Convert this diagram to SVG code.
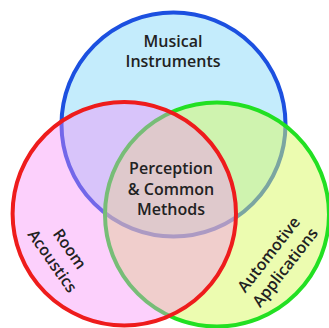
<svg xmlns="http://www.w3.org/2000/svg" width="329" height="328" viewBox="0 0 329 328">
<style>
.c{stroke-width:4}
.t{font-family:"Open Sans","Liberation Sans",sans-serif;font-size:16px;fill:#222222;text-anchor:middle;font-weight:600}
</style>
<rect width="329" height="328" fill="#ffffff"/>
<g id="musical-instruments">
<circle class="c" cx="173.5" cy="124.5" r="112" fill="#c4ecfc" stroke="#1c50e0"/>
<text class="t" x="173" y="47">Musical</text>
<text class="t" x="173" y="67">Instruments</text>
</g>
<g id="automotive-applications">
<circle class="c" cx="217" cy="214.5" r="112" fill="#d9f961" fill-opacity="0.5" stroke="#22e022"/>
<g transform="translate(277,261) rotate(-52)">
<text class="t" x="0" y="-5">Automotive</text>
<text class="t" x="0" y="16">Applications</text>
</g>
</g>
<g id="room-acoustics">
<circle class="c" cx="124.3" cy="213.7" r="111.7" fill="#f789f7" fill-opacity="0.4" stroke="#ee1c1c"/>
<g transform="translate(61,255) rotate(55)">
<text class="t" x="0" y="-5">Room</text>
<text class="t" x="0" y="16">Acoustics</text>
</g>
</g>
<g id="perception-common-methods">
<text class="t" x="171" y="174">Perception</text>
<text class="t" x="171" y="195">&amp; Common</text>
<text class="t" x="171" y="215">Methods</text>
</g>
<g id="connectors"/>
</svg>
